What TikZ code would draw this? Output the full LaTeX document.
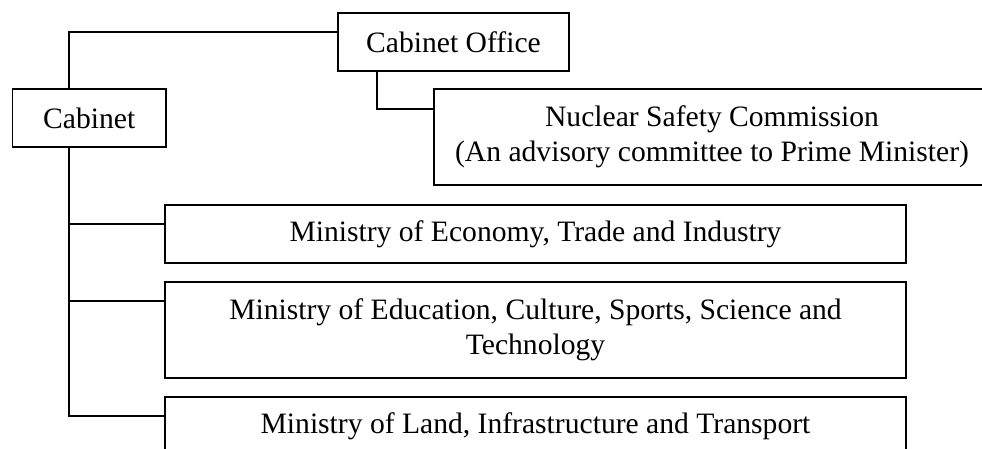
\documentclass[tikz,border=0pt]{standalone}
\usepackage{fontspec}
\setmainfont{Liberation Serif}
\begin{document}
\begin{tikzpicture}[x=1pt,y=-1pt,
  orgbox/.style={draw, line width=1.6pt, inner sep=0pt, align=center,
    font=\fontsize{29.6}{35}\selectfont},
  link/.style={line width=1.6pt}]
\clip (0,0) rectangle (982,448);
\fill[white] (0,0) rectangle (982,448);
\node[orgbox, minimum width=153.5pt, minimum height=58pt] (cab) at (89.25,118) {Cabinet};
\node[orgbox, minimum width=231pt, minimum height=58pt] (co) at (453.5,42) {Cabinet Office};
\node[orgbox, minimum width=556pt, minimum height=96pt] (nsc) at (712,137) {Nuclear Safety Commission\\(An advisory committee to Prime Minister)};
\node[orgbox, minimum width=741pt, minimum height=58pt] (eco) at (535.5,234) {Ministry of Economy, Trade and Industry};
\node[orgbox, minimum width=741pt, minimum height=96pt] (edu) at (535.5,330) {Ministry of Education, Culture, Sports, Science and\\Technology};
\node[orgbox, minimum width=741pt, minimum height=58pt] (land) at (535.5,426) {Ministry of Land, Infrastructure and Transport};
\draw[link] ([xshift=-20pt]cab.north) |- ([yshift=10pt]co.west);
\draw[link] ([xshift=-76.5pt]co.south) |- ([yshift=28pt]nsc.west);
\draw[link] ([xshift=-20pt]cab.south) |- ([yshift=10pt]land.west);
\draw[link] ([yshift=10pt]eco.west) -| ([xshift=-20pt]cab.south);
\draw[link] ([yshift=29pt]edu.west) -| ([xshift=-20pt]cab.south);
\end{tikzpicture}
\end{document}
